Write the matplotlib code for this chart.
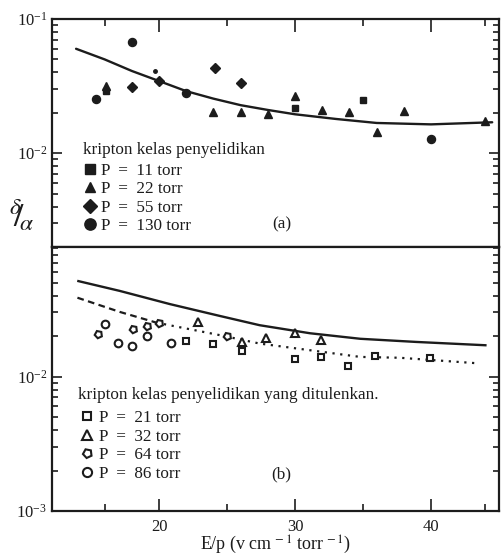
import matplotlib
matplotlib.use('Agg')
import matplotlib.pyplot as plt
from matplotlib.ticker import LogLocator, FixedLocator, NullFormatter, FixedFormatter

plt.rcParams['font.family'] = ['Liberation Serif', 'DejaVu Serif']
plt.rcParams['mathtext.fontset'] = 'stix'

INK = '#1c1c1c'

# ---------------- data: panel (a) ----------------
a_curve_x = [13.9, 16, 18, 20, 22, 24, 26, 28, 30, 33, 36, 40, 44.5]
a_curve_y = [0.060, 0.050, 0.041, 0.0345, 0.029, 0.0255, 0.0228, 0.021, 0.0195, 0.018, 0.0168, 0.0164, 0.0170]

a11_x = [16.1, 30.0, 35.0]
a11_y = [0.0289, 0.0216, 0.0249]
a22_x = [16.1, 24.0, 26.0, 28.0, 30.0, 32.0, 34.0, 36.0, 38.0, 44.0]
a22_y = [0.0315, 0.0202, 0.0203, 0.0195, 0.0268, 0.0209, 0.0202, 0.0144, 0.0207, 0.0175]
a55_x = [18.0, 20.0, 24.1, 26.0]
a55_y = [0.0309, 0.0347, 0.0432, 0.0335]
a130_x = [15.4, 18.0, 22.0, 40.0]
a130_y = [0.0253, 0.0669, 0.0279, 0.0128]
a_speck_x = [19.7]
a_speck_y = [0.0413]

a_labels = ['P  =  11 torr', 'P  =  22 torr', 'P  =  55 torr', 'P  =  130 torr']
a_title = 'kripton kelas penyelidikan'

# ---------------- data: panel (b) ----------------
b_solid_x = [14.07, 17.1, 20.8, 24.5, 27.4, 31.1, 34.8, 38.9, 44.0]
b_solid_y = [0.0513, 0.0434, 0.0346, 0.0282, 0.0241, 0.0210, 0.0191, 0.0181, 0.0171]
b_dash_x = [14.0, 17.1, 19.8]
b_dash_y = [0.0386, 0.0303, 0.0252]
b_dot_x = [19.8, 24.5, 27.4, 31.1, 34.8, 37.7, 43.2]
b_dot_y = [0.0252, 0.0203, 0.0176, 0.0157, 0.0140, 0.0138, 0.0126]

b21_x = [22.0, 24.0, 26.1, 30.0, 31.9, 33.9, 35.9, 39.9]
b21_y = [0.0185, 0.0174, 0.0155, 0.0135, 0.0141, 0.0120, 0.0143, 0.0137]
b32_x = [22.9, 26.1, 27.9, 30.0, 31.9]
b32_y = [0.0253, 0.0182, 0.0195, 0.0210, 0.0186]
b64_x = [15.5, 18.1, 19.1, 20.0, 25.0]
b64_y = [0.0208, 0.0227, 0.0239, 0.0252, 0.0202]
b86_x = [16.0, 17.0, 18.0, 19.1, 20.9]
b86_y = [0.0246, 0.0179, 0.0170, 0.0201, 0.0178]

b_labels = ['P  =  21 torr', 'P  =  32 torr', 'P  =  64 torr', 'P  =  86 torr']
b_title = 'kripton kelas penyelidikan yang ditulenkan.'

x_major = [20, 30, 40]
x_minor = [16, 25, 35, 44]
x_ticklabels = ['20', '30', '40']

# ---------------- figure ----------------
W, H = 501, 558
fig = plt.figure(figsize=(W / 100, H / 100), dpi=100)
fig.patch.set_facecolor('white')

def px_ax(x0, y0, x1, y1):
    return fig.add_axes([x0 / W, 1 - y1 / H, (x1 - x0) / W, (y1 - y0) / H])

ax_a = px_ax(52, 19, 499, 247)
ax_b = px_ax(52, 247, 499, 511)

for ax in (ax_a, ax_b):
    ax.set_yscale('log')
    ax.set_xlim(12.13, 45.0)
    for s in ax.spines.values():
        s.set_linewidth(1.6)
        s.set_color(INK)
    ax.yaxis.set_major_locator(LogLocator(base=10, numticks=10))
    ax.yaxis.set_minor_locator(LogLocator(base=10, subs=range(2, 10), numticks=20))
    ax.yaxis.set_minor_formatter(NullFormatter())
    ax.tick_params(axis='y', which='both', direction='in', left=True, right=True,
                   color=INK, width=1.2, labelsize=12, labelcolor=INK)
    ax.tick_params(axis='y', which='major', length=7)
    ax.tick_params(axis='y', which='minor', length=4)
    ax.xaxis.set_major_locator(FixedLocator(x_major))
    ax.xaxis.set_minor_locator(FixedLocator(x_minor))

ax_a.set_ylim(2.0e-3, 1e-1)
ax_b.set_ylim(1e-3, 0.092)

ax_a.tick_params(axis='x', which='both', direction='in', top=True, bottom=False,
                 labelbottom=False, labeltop=False, color=INK, width=1.2)
ax_a.tick_params(axis='x', which='major', length=9)
ax_a.tick_params(axis='x', which='minor', length=5)

ax_b.tick_params(axis='x', which='both', direction='in', top=False, bottom=True,
                 labelbottom=True, color=INK, width=1.2, labelsize=12, pad=6,
                 labelcolor=INK)
ax_b.tick_params(axis='x', which='major', length=9)
ax_b.tick_params(axis='x', which='minor', length=5)
ax_b.xaxis.set_major_formatter(FixedFormatter(x_ticklabels))

# ---------------- panel (a) ----------------
ax_a.plot(a_curve_x, a_curve_y, color=INK, lw=1.7, solid_capstyle='round')
h1, = ax_a.plot(a11_x, a11_y, ls='none', marker='s', ms=4.8, color=INK)
h2, = ax_a.plot(a22_x, a22_y, ls='none', marker='^', ms=5.2, color=INK)
h3, = ax_a.plot(a55_x, a55_y, ls='none', marker='D', ms=5.0, color=INK)
h4, = ax_a.plot(a130_x, a130_y, ls='none', marker='o', ms=5.8, color=INK)
ax_a.plot(a_speck_x, a_speck_y, ls='none', marker='o', ms=2.5, color=INK)

ax_a.text(0.0694, 0.425, a_title, transform=ax_a.transAxes, ha='left', va='center',
          fontsize=12.3, color=INK)
leg_a = ax_a.legend([h1, h2, h3, h4], a_labels, loc='upper left',
                    bbox_to_anchor=(0.069, 0.368), frameon=False, fontsize=12.3,
                    handlelength=0.8, handletextpad=0.25,
                    labelspacing=0.13, borderpad=0, borderaxespad=0,
                    markerscale=1.4)
for t in leg_a.get_texts():
    t.set_color(INK)
ax_a.text(29.0, 2.95e-3, '(a)', ha='center', va='center', fontsize=12.3, color=INK)

# ---------------- panel (b) ----------------
ax_b.plot(b_solid_x, b_solid_y, color=INK, lw=1.7)
ax_b.plot(b_dash_x, b_dash_y, color=INK, lw=1.6, ls=(0, (3, 2)))
ax_b.plot(b_dot_x, b_dot_y, color=INK, lw=1.6, ls=(0, (1, 2.5)))
g1, = ax_b.plot(b21_x, b21_y, ls='none', marker='s', ms=5, mfc='white', mec=INK, mew=1.5)
g2, = ax_b.plot(b32_x, b32_y, ls='none', marker='^', ms=5.5, mfc='white', mec=INK, mew=1.5)
g3, = ax_b.plot(b64_x, b64_y, ls='none', marker=(5, 0, 25), ms=5.5, mfc='white', mec=INK, mew=1.5)
g4, = ax_b.plot(b86_x, b86_y, ls='none', marker='o', ms=5.5, mfc='white', mec=INK, mew=1.5)

ax_b.text(0.058, 0.439, b_title, transform=ax_b.transAxes, ha='left', va='center',
          fontsize=12.3, color=INK)
leg_b = ax_b.legend([g1, g2, g3, g4], b_labels, loc='upper left',
                    bbox_to_anchor=(0.062, 0.383), frameon=False, fontsize=12.3,
                    handlelength=0.9, handletextpad=0.2,
                    labelspacing=0.16, borderpad=0, borderaxespad=0,
                    markerscale=1.2)
for t in leg_b.get_texts():
    t.set_color(INK)
ax_b.text(29.0, 1.87e-3, '(b)', ha='center', va='center', fontsize=12.3, color=INK)

ax_b.set_xlabel(r'E/p (v cm$^{\,-1}$ torr$^{\,-1}$)', fontsize=13, color=INK, labelpad=-1)

fig.text(22 / W, 1 - 216 / H, r'$^{\delta}\!\!/\!_{\alpha}$', fontsize=24, color=INK,
         ha='center', va='center')

fig.savefig('out.png', dpi=100, facecolor='white')
